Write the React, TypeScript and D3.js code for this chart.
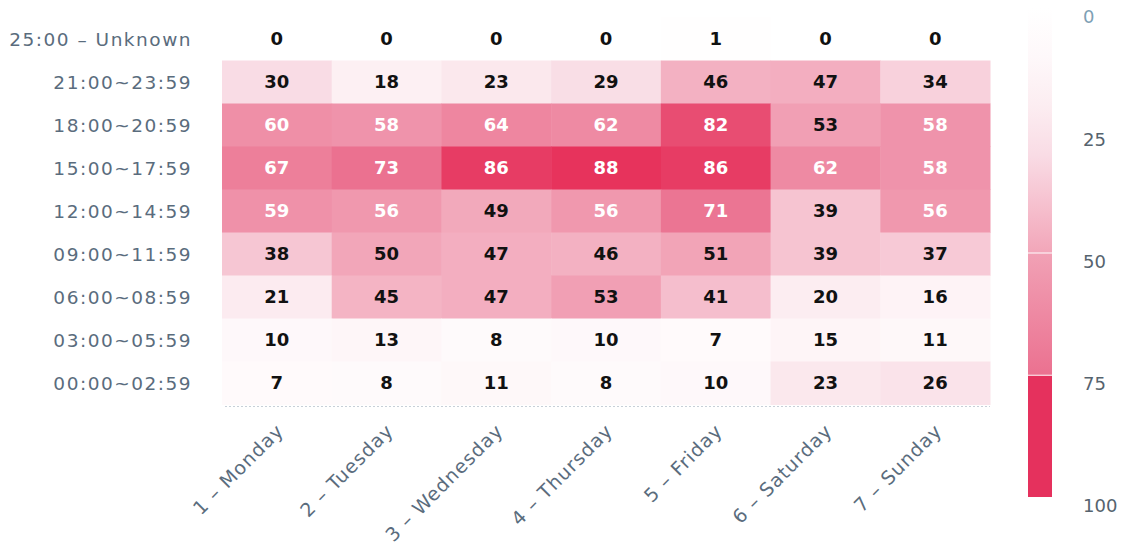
import React from 'react';
import { scaleBand, scaleLinear } from 'd3';

const days = ['1 - Monday', '2 - Tuesday', '3 - Wednesday', '4 - Thursday', '5 - Friday', '6 - Saturday', '7 - Sunday'];
const slots = [
  '25:00 - Unknown',
  '21:00~23:59',
  '18:00~20:59',
  '15:00~17:59',
  '12:00~14:59',
  '09:00~11:59',
  '06:00~08:59',
  '03:00~05:59',
  '00:00~02:59',
];
// one array per time slot, Monday..Sunday
const unknown = [0, 0, 0, 0, 1, 0, 0];
const night21 = [30, 18, 23, 29, 46, 47, 34];
const evening18 = [60, 58, 64, 62, 82, 53, 58];
const afternoon15 = [67, 73, 86, 88, 86, 62, 58];
const noon12 = [59, 56, 49, 56, 71, 39, 56];
const morning09 = [38, 50, 47, 46, 51, 39, 37];
const morning06 = [21, 45, 47, 53, 41, 20, 16];
const early03 = [10, 13, 8, 10, 7, 15, 11];
const midnight00 = [7, 8, 11, 8, 10, 23, 26];
const legendTicks = [0, 25, 50, 75, 100];

const rows = [unknown, night21, evening18, afternoon15, noon12, morning09, morning06, early03, midnight00];

const W = 1123;
const H = 550;
const grid = { left: 222, right: 990, top: 17.5, bottom: 404.5 };

const color = scaleLinear<string>()
  .domain([0, 15, 30, 50, 75, 90])
  .range(['#ffffff', '#fef5f7', '#f9dce5', '#f2a6b9', '#ea6c8c', '#e62a55'])
  .clamp(true);

export default function App() {
  const x = scaleBand().domain(days).range([grid.left, grid.right]);
  const y = scaleBand().domain(slots).range([grid.top, grid.bottom]);
  const ly = scaleLinear().domain([0, 100]).range([8, 497]);

  const cells = rows.flatMap((vals, r) =>
    vals.map((v, c) => ({ slot: slots[r], day: days[c], v }))
  );

  const font = '"DejaVu Sans", sans-serif';
  const legendStops = [0, 10, 20, 30, 40, 50];

  return (
    <svg width={W} height={H} style={{ position: 'absolute', left: 0, top: 0, background: '#fff' }}>
      <defs>
        <linearGradient id="lg1" x1="0" y1="0" x2="0" y2="1">
          {legendStops.map((s) => (
            <stop key={s} offset={`${(s / 50) * 100}%`} stopColor={color(s)} />
          ))}
        </linearGradient>
        <linearGradient id="lg2" x1="0" y1="0" x2="0" y2="1">
          <stop offset="0%" stopColor={color(52)} />
          <stop offset="100%" stopColor={color(73)} />
        </linearGradient>
      </defs>

      {cells.map((d, i) => (
        <rect
          key={i}
          x={x(d.day)}
          y={y(d.slot)}
          width={x.bandwidth() + 0.5}
          height={y.bandwidth() + 0.5}
          fill={color(d.v)}
        />
      ))}
      {cells.map((d, i) => (
        <text
          key={'t' + i}
          x={(x(d.day) ?? 0) + x.bandwidth() / 2}
          y={(y(d.slot) ?? 0) + y.bandwidth() / 2}
          dy="0.36em"
          textAnchor="middle"
          fontFamily='"DejaVu Sans", sans-serif'
          fontWeight="bold"
          fontSize={18}
          fill={d.v > 55 ? '#ffffff' : '#111111'}
        >
          {d.v}
        </text>
      ))}

      <line
        x1={grid.left + 3}
        x2={grid.right}
        y1={grid.bottom + 2}
        y2={grid.bottom + 2}
        stroke="#c8d0d8"
        strokeWidth={1}
        strokeDasharray="2 2"
      />

      {slots.map((s) => (
        <text
          key={s}
          x={192}
          y={(y(s) ?? 0) + y.bandwidth() / 2}
          dy="0.36em"
          textAnchor="end"
          fontFamily={font}
          fontSize={18.5}
          letterSpacing={1.5}
          fill="#5a6c7d"
        >
          {s.replace(' - ', ' \u2013 ')}
        </text>
      ))}

      {days.map((d) => {
        const cx = (x(d) ?? 0) + x.bandwidth() / 2 + 8;
        const cy = 432;
        return (
          <text
            key={d}
            transform={`translate(${cx},${cy}) rotate(-45)`}
            textAnchor="end"
            fontFamily={font}
            fontSize={19}
            letterSpacing={1}
            fill="#5a6c7d"
          >
            {d.replace(' - ', ' \u2013 ')}
          </text>
        );
      })}

      <rect x={1028} y={ly(0)} width={24} height={ly(50) - ly(0)} fill="url(#lg1)" />
      <rect x={1028} y={ly(50) + 1} width={24} height={ly(75) - ly(50) - 1} fill="url(#lg2)" />
      <rect x={1028} y={ly(75) + 1} width={24} height={ly(100) - ly(75) - 1} fill="#e5315d" />
      {legendTicks.map((t) => (
        <text
          key={t}
          x={1083}
          y={ly(t) + 9}
          dy="0.36em"
          fontFamily={font}
          fontSize={18}
          fill={t === 0 ? '#7f9fb5' : '#56636e'}
        >
          {t}
        </text>
      ))}
    </svg>
  );
}
